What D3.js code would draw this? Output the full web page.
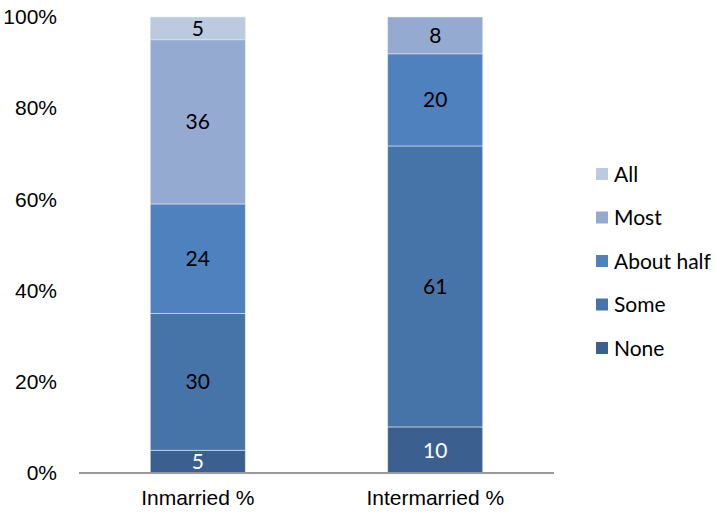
<!DOCTYPE html>
<html>
<head>
<meta charset="utf-8">
<script src="https://cdn.jsdelivr.net/npm/d3@7"></script>
<style>
  html, body { margin: 0; padding: 0; background: #fff; }
  svg { display: block; font-family: "Gill Sans", "Lato", "Noto Sans", sans-serif; }
</style>
</head>
<body>
<svg id="chart" width="716" height="516"></svg>
<script>
// Share of friends who are Jewish, by marriage type (stacked to 100%)
const groups = ["Inmarried %", "Intermarried %"];
const levels = ["None", "Some", "About half", "Most", "All"];
const inmarried = [5, 30, 24, 36, 5];
const intermarried = [10, 61, 20, 8, 0];
const levelColors = ["#3b5f8f", "#4673a8", "#4e81bd", "#95aad0", "#bccadf"];
const yTicks = [0, 20, 40, 60, 80, 100];

const rows = [inmarried, intermarried].map((vals, gi) => {
  const total = d3.sum(vals);
  const row = { group: groups[gi] };
  levels.forEach((k, i) => { row[k] = vals[i] / total * 100; row[k + "_label"] = vals[i]; });
  return row;
});

const fontSize = 21;
const svg = d3.select("#chart");
const plotLeft = 79, plotRight = 554, plotTop = 17, plotBottom = 473;

const x = d3.scaleBand().domain(groups).range([plotLeft, plotRight]).paddingInner(0.6).paddingOuter(0.3);
const y = d3.scaleLinear().domain([0, 100]).range([plotBottom, plotTop]);
const color = d3.scaleOrdinal().domain(levels).range(levelColors);

const series = d3.stack().keys(levels)(rows);

// Stacked segments
const layer = svg.append("g").selectAll("g").data(series).join("g")
  .attr("fill", d => color(d.key));

layer.selectAll("rect").data(d => d.map(p => ({ key: d.key, p })).filter(d => d.p[1] - d.p[0] > 0))
  .join("rect")
  .attr("x", d => x(d.p.data.group))
  .attr("width", x.bandwidth())
  .attr("y", d => y(d.p[1]))
  .attr("height", d => y(d.p[0]) - y(d.p[1]))
  .attr("stroke", "#dfe6f0")
  .attr("stroke-width", 0.6);

// Segment value labels
layer.selectAll("text").data(d => d.map(p => ({ key: d.key, p })).filter(d => d.p.data[d.key + "_label"] > 0))
  .join("text")
  .attr("x", d => x(d.p.data.group) + x.bandwidth() / 2)
  .attr("y", d => (y(d.p[0]) + y(d.p[1])) / 2)
  .attr("dy", "0.36em")
  .attr("text-anchor", "middle")
  .attr("font-size", fontSize)
  .attr("fill", d => d.key === "None" ? "#ffffff" : "#000000")
  .text(d => d.p.data[d.key + "_label"]);

// Y axis labels
const yAxis = d3.axisLeft(y).tickValues(yTicks).tickFormat(d => d + "%").tickSize(0).tickPadding(22);
const ya = svg.append("g").attr("transform", `translate(${plotLeft},0)`).call(yAxis);
ya.select(".domain").remove();
ya.selectAll("text").attr("font-size", fontSize).attr("font-family", null).attr("fill", "#000");

// X axis baseline and category labels
const xAxis = d3.axisBottom(x).tickSize(0).tickPadding(17);
const xa = svg.append("g").attr("transform", `translate(0,${plotBottom})`).call(xAxis);
xa.select(".domain").attr("stroke", "#999").attr("stroke-width", 2).attr("d", `M${plotLeft},0H${plotRight}`);
xa.selectAll("text").attr("font-size", fontSize).attr("font-family", null).attr("fill", "#000");

// Legend (top item = All)
const legendItems = levels.slice().reverse();
const lg = svg.append("g").attr("transform", "translate(596,174)");
const item = lg.selectAll("g").data(legendItems).join("g")
  .attr("transform", (d, i) => `translate(0,${i * 43.5})`);
item.append("rect").attr("x", 0).attr("y", -6).attr("width", 12).attr("height", 12)
  .attr("fill", d => color(d));
item.append("text").attr("x", 18).attr("dy", "0.36em").attr("font-size", fontSize).attr("fill", "#000")
  .text(d => d);
</script>
</body>
</html>
